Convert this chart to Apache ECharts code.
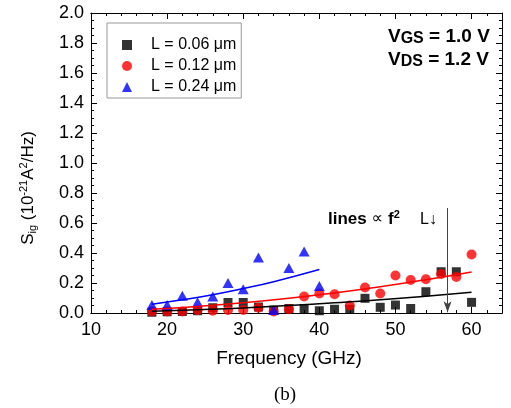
<!DOCTYPE html>
<html><head><meta charset="utf-8">
<script src="https://cdn.jsdelivr.net/npm/echarts@6/dist/echarts.min.js"></script>
<style>html,body{margin:0;padding:0;background:#fff}#c{width:511px;height:408px}</style>
</head><body><div id="c"></div>
<script>
// ---- data ----
const seriesNames = ['L = 0.06 \u03bcm', 'L = 0.12 \u03bcm', 'L = 0.24 \u03bcm'];
const freqAll = [18,20,22,24,26,28,30,32,34,36,38,40,42,44,46,48,50,52,54,56,58,60];
const sig006 = [0.005,0.008,0.010,0.015,0.035,0.070,0.070,0.040,0.020,0.030,0.030,0.015,0.025,0.025,0.098,0.038,0.053,0.030,0.142,0.275,0.275,0.071];
const sig012 = [0.010,0.010,0.010,0.020,0.015,0.020,0.020,0.035,0.010,0.025,0.110,0.130,0.125,0.050,0.170,0.130,0.250,0.220,0.225,0.260,0.240,0.390];
const freqBlue = [18,20,22,24,26,28,30,32,34,36,38,40];
const sig024 = [0.053,0.053,0.115,0.072,0.110,0.200,0.158,0.370,0.020,0.300,0.410,0.180];
// fitted lines (proportional to f^2)
const fitFreqLong = [18,24,30,36,42,48,54,60];
const fit006 = [0.012,0.022,0.034,0.050,0.068,0.088,0.112,0.138];
const fit012 = [0.025,0.044,0.068,0.098,0.134,0.175,0.222,0.274];
const fitFreqBlue = [18,22,26,30,34,40];
const fit024 = [0.059,0.088,0.122,0.163,0.209,0.290];
// arrow marker "L decreasing" (frequency, top value, bottom value)
const arrowFreq = 56.85;
const arrowTop = 0.70;
const arrowBottom = 0.005;
// tick labels
const xTickLabels = ['10','20','30','40','50','60'];
const yTickLabels = ['0.0','0.2','0.4','0.6','0.8','1.0','1.2','1.4','1.6','1.8','2.0'];

const FONT = 'Liberation Sans, Arial, sans-serif';
const pairs = (xs, ys) => xs.map((x, i) => [x, ys[i]]);

const chart = echarts.init(document.getElementById('c'), null, {renderer: 'canvas'});

function xAxisDef(pos, interval, tickLen, labels) {
  return {
    type: 'value', min: 10, max: 64, interval: interval, position: pos,
    axisLine: {show: true, onZero: false, lineStyle: {color: '#000', width: 1}},
    axisTick: {show: true, inside: true, length: tickLen, lineStyle: {color: '#000', width: 1}},
    axisLabel: labels ? {
      show: true, margin: 8, fontSize: 18, fontFamily: FONT, color: '#000',
      formatter: v => { const s = String(Math.round(v)); return (Math.abs(v - Math.round(v)) < 1e-6 && xTickLabels.includes(s)) ? s : ''; }
    } : {show: false},
    splitLine: {show: false}
  };
}
function yAxisDef(pos, labels) {
  return {
    type: 'value', min: 0, max: 2, interval: 0.2, position: pos,
    axisLine: {show: true, onZero: false, lineStyle: {color: '#000', width: 1}},
    axisTick: {show: true, inside: true, length: 6, lineStyle: {color: '#000', width: 1}},
    minorTick: {show: true, splitNumber: 4, length: 3, lineStyle: {color: '#000', width: 1}},
    axisLabel: labels ? {
      show: true, margin: 7, fontSize: 18, fontFamily: FONT, color: '#000',
      formatter: v => { const i = Math.round(v / 0.2); return yTickLabels[i] || ''; }
    } : {show: false},
    splitLine: {show: false}
  };
}

const option = {
  animation: false,
  backgroundColor: '#fff',
  grid: {left: 91, right: 9, top: 13, bottom: 95, containLabel: false},
  xAxis: [
    xAxisDef('bottom', 2, 3, true),
    xAxisDef('bottom', 10, 6, false),
    xAxisDef('top', 2, 3, false),
    xAxisDef('top', 10, 6, false)
  ],
  yAxis: [yAxisDef('left', true), yAxisDef('right', false)],
  legend: {
    data: seriesNames,
    orient: 'vertical', left: 107, top: 23,
    padding: [14, 5, 3, 15],
    itemWidth: 10, itemHeight: 10, itemGap: 5,
    symbolKeepAspect: true,
    selectedMode: false,
    borderColor: '#999', borderWidth: 1,
    textStyle: {fontSize: 16, fontFamily: FONT, color: '#000', lineHeight: 16, padding: [0, 0, 0, 14]}
  },
  series: [
    {name: seriesNames[0], type: 'scatter', data: pairs(freqAll, sig006), symbol: 'rect', symbolSize: 9,
     itemStyle: {color: '#000000'}},
    {name: seriesNames[1], type: 'scatter', data: pairs(freqAll, sig012), symbol: 'circle', symbolSize: 10,
     itemStyle: {color: '#ff0000'}},
    {name: seriesNames[2], type: 'scatter', data: pairs(freqBlue, sig024), symbol: 'triangle', symbolSize: [11, 10],
     itemStyle: {color: '#0000ff'}},
    {name: 'fit006', type: 'line', data: pairs(fitFreqLong, fit006), smooth: true, showSymbol: false, symbol: 'none',
     lineStyle: {color: '#000', width: 1.5},
     markLine: {silent: true, symbol: ['none', 'arrow'], symbolSize: [6, 11],
       label: {show: false}, lineStyle: {color: '#444', width: 1, type: 'solid'},
       data: [[{coord: [arrowFreq, arrowTop]}, {coord: [arrowFreq, arrowBottom]}]]}},
    {name: 'fit012', type: 'line', data: pairs(fitFreqLong, fit012), smooth: true, showSymbol: false, symbol: 'none',
     lineStyle: {color: '#ff0000', width: 1.5}},
    {name: 'fit024', type: 'line', data: pairs(fitFreqBlue, fit024), smooth: true, showSymbol: false, symbol: 'none',
     lineStyle: {color: '#0000ff', width: 1.5}}
  ],
  graphic: [
    {type: 'text', x: 388, y: 37, style: {
      text: '{m|V}{s|GS}{m| = 1.0 V}', textVerticalAlign: 'middle',
      rich: {m: {fontSize: 19, fontWeight: 'bold', fontFamily: FONT, fill: '#000', lineHeight: 20},
             s: {fontSize: 16, fontWeight: 'bold', fontFamily: FONT, fill: '#000', lineHeight: 9, verticalAlign: 'bottom'}}}},
    {type: 'text', x: 388, y: 60, style: {
      text: '{m|V}{s|DS}{m| = 1.2 V}', textVerticalAlign: 'middle',
      rich: {m: {fontSize: 19, fontWeight: 'bold', fontFamily: FONT, fill: '#000', lineHeight: 20},
             s: {fontSize: 16, fontWeight: 'bold', fontFamily: FONT, fill: '#000', lineHeight: 9, verticalAlign: 'bottom'}}}},
    {type: 'text', x: 328, y: 219, style: {
      text: '{b|lines }{r|\u221d }{b|f}{p|2}', textVerticalAlign: 'middle',
      rich: {b: {fontSize: 17, fontWeight: 'bold', fontFamily: FONT, fill: '#000', lineHeight: 20},
             r: {fontSize: 16, fontFamily: 'DejaVu Sans, ' + FONT, fill: '#000', lineHeight: 20},
             p: {fontSize: 11, fontWeight: 'bold', fontFamily: FONT, fill: '#000', lineHeight: 10, verticalAlign: 'top'}}}},
    {type: 'text', x: 420, y: 220, style: {
      text: 'L\u2193', textVerticalAlign: 'middle', fontSize: 16, fontFamily: FONT, fill: '#000'}},
    {type: 'text', x: 28, y: 188, rotation: Math.PI / 2, style: {
      text: '{m|S}{s|ig}{m| (10}{p|-21}{m|A}{p|2}{m|/Hz)}', textAlign: 'center', textVerticalAlign: 'middle',
      rich: {m: {fontSize: 17, fontFamily: FONT, fill: '#000', lineHeight: 20},
             s: {fontSize: 11, fontFamily: FONT, fill: '#000', lineHeight: 8, verticalAlign: 'bottom'},
             p: {fontSize: 11, fontFamily: FONT, fill: '#000', lineHeight: 10, verticalAlign: 'top'}}}},
    {type: 'text', x: 289, y: 359, style: {
      text: 'Frequency (GHz)', textAlign: 'center', textVerticalAlign: 'middle', fontSize: 19, fontFamily: FONT, fill: '#000'}},
    {type: 'text', x: 285, y: 395, style: {
      text: '(b)', textAlign: 'center', textVerticalAlign: 'middle', fontSize: 19, fontFamily: 'Liberation Serif, Times New Roman, serif', fill: '#000'}}
  ]
};
chart.setOption(option);
</script>
</body></html>
